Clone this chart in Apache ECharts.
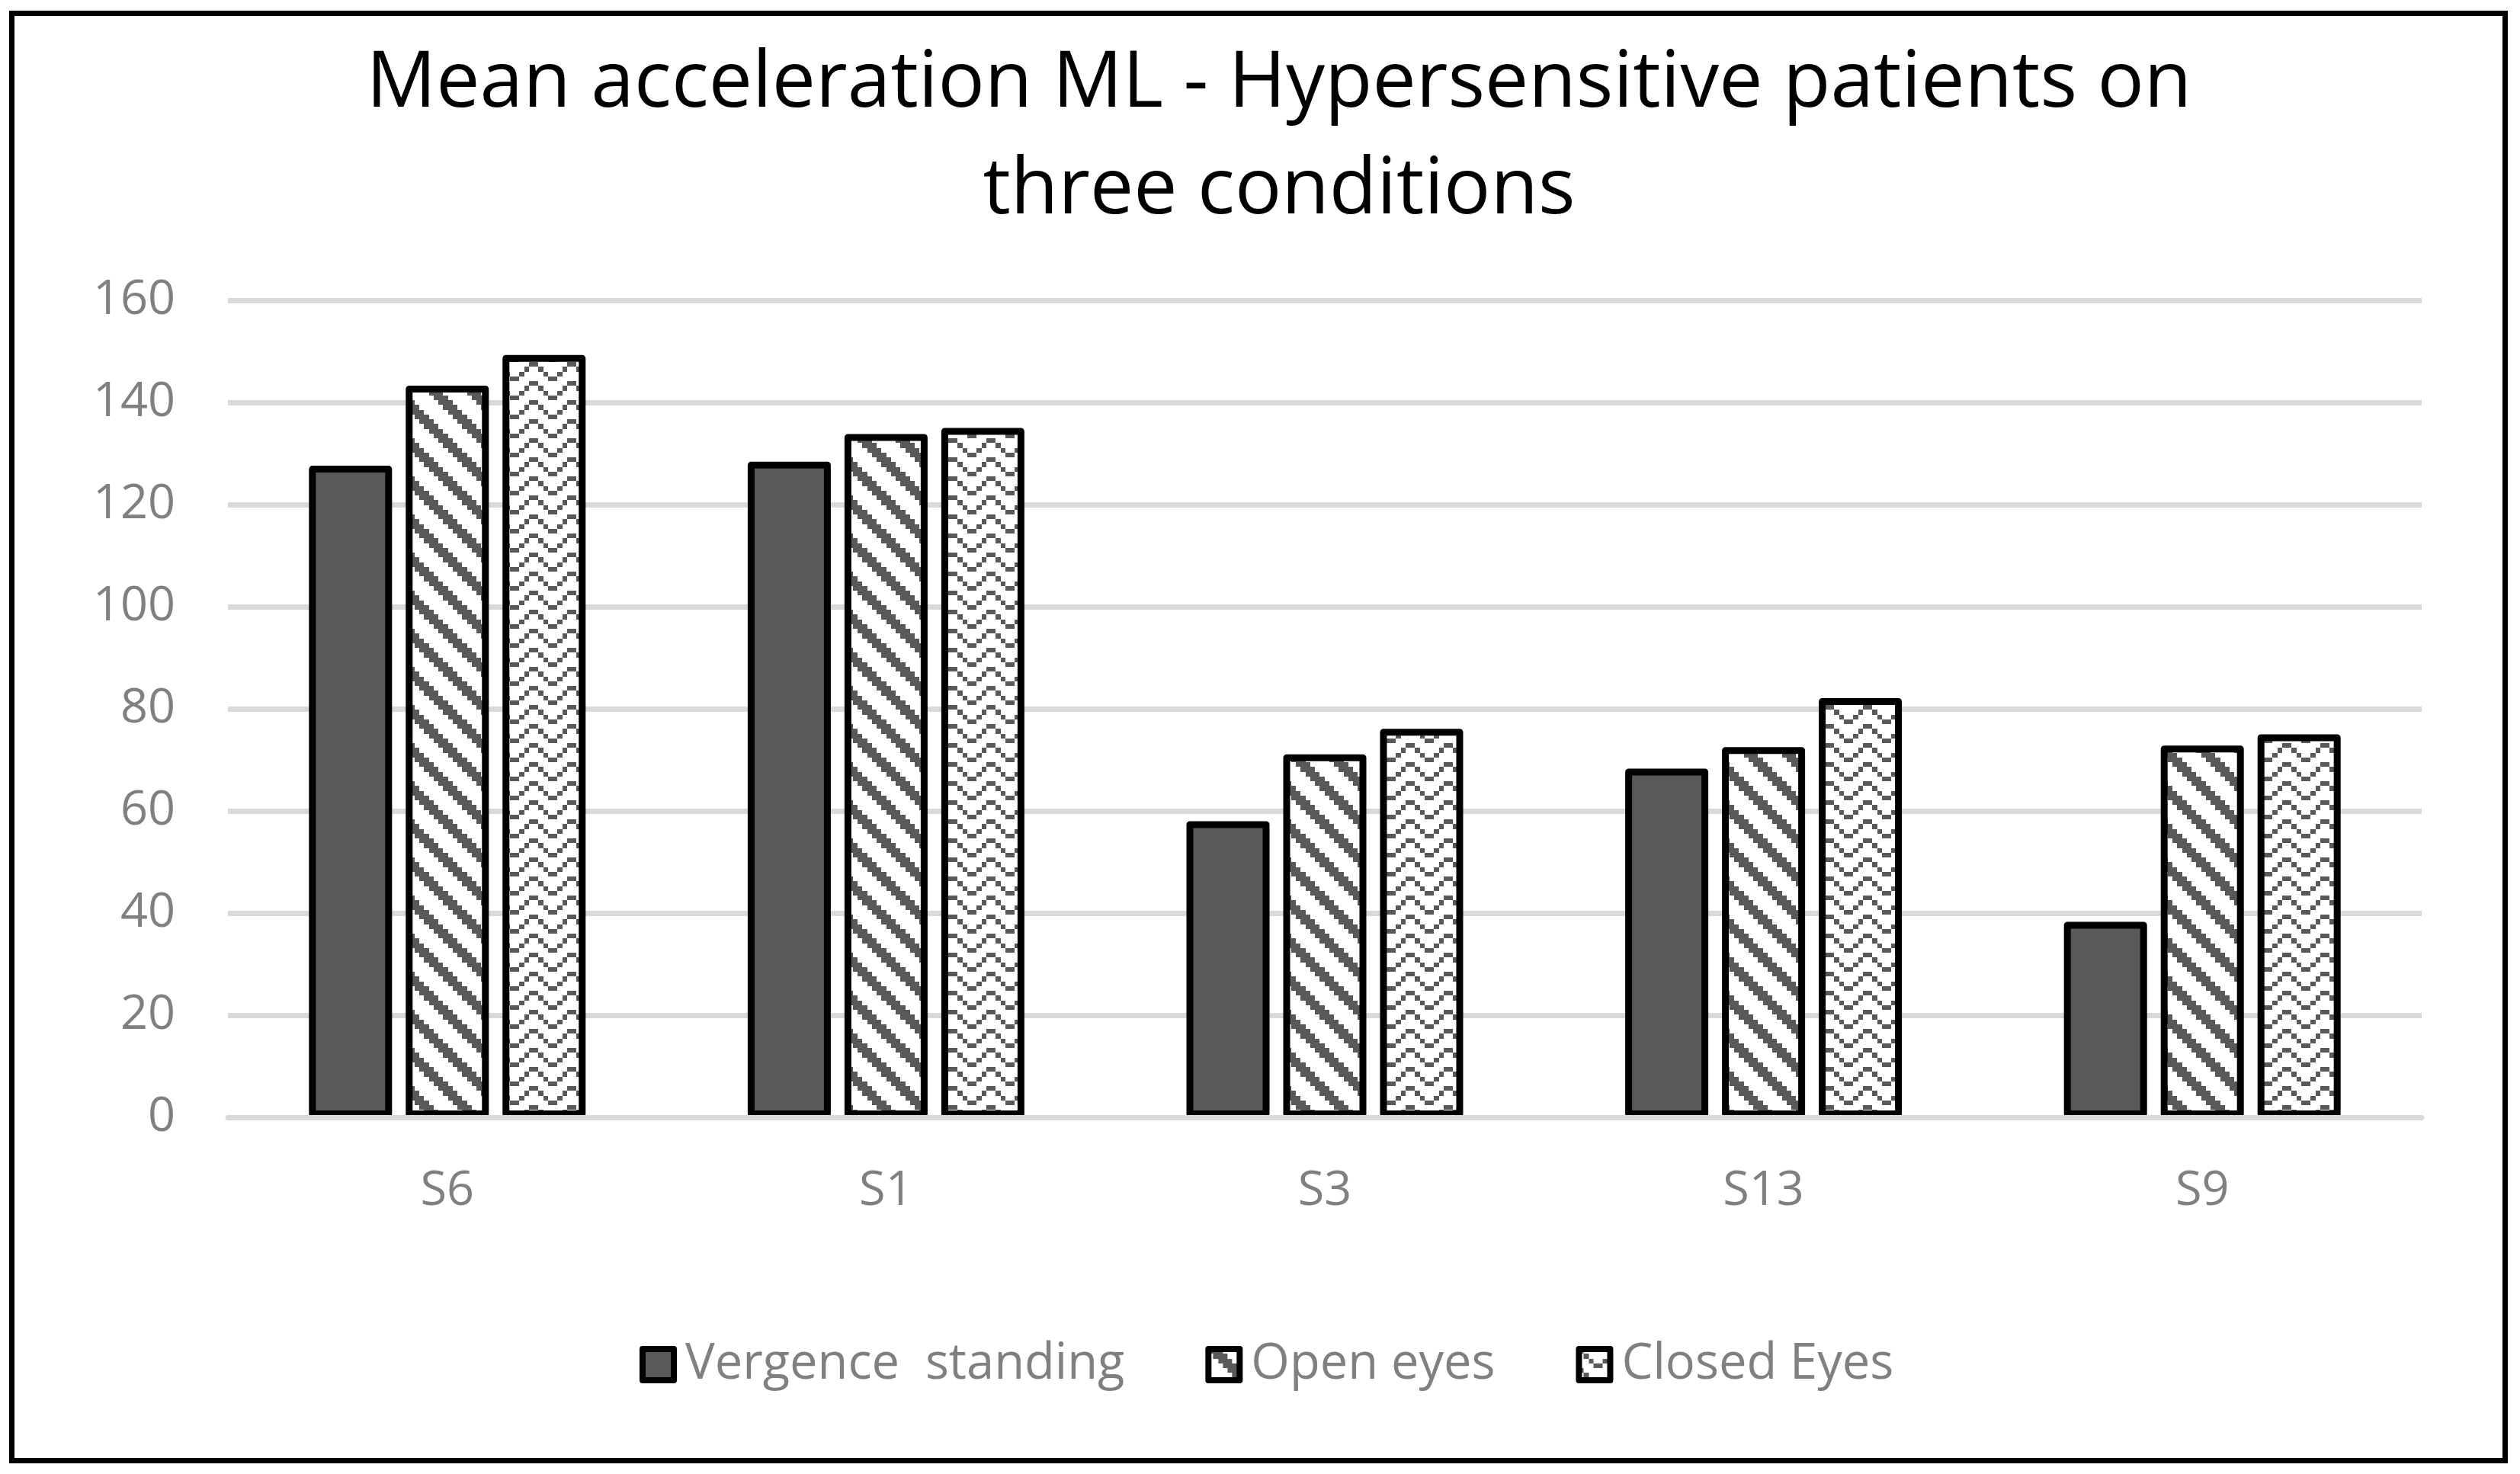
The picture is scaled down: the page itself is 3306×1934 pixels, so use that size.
<!DOCTYPE html>
<html>
<head>
<meta charset="utf-8">
<script src="https://cdn.jsdelivr.net/npm/echarts/dist/echarts.min.js"></script>
<style>
html,body{margin:0;padding:0;background:#fff;}
#chart{width:3306px;height:1934px;}
</style>
</head>
<body>
<div id="chart"></div>
<script>
// ---- data ----
const categories = ['S6', 'S1', 'S3', 'S13', 'S9'];
const seriesNames = ['Vergence  standing', 'Open eyes', 'Closed Eyes'];
const vergenceStanding = [127.6, 128.4, 58.0, 68.3, 38.3];
const openEyes = [143.3, 133.8, 71.1, 72.5, 72.8];
const closedEyes = [149.3, 135.0, 76.1, 82.1, 75.0];
const yMin = 0, yMax = 160, yStep = 20;
const titleText = 'Mean acceleration ML - Hypersensitive patients on\nthree conditions';

// ---- styles ----
function makePattern(rows) {
  const size = 50, n = 8, cell = size / n;
  const c = document.createElement('canvas');
  c.width = size; c.height = size;
  const ctx = c.getContext('2d');
  ctx.fillStyle = '#ffffff';
  ctx.fillRect(0, 0, size, size);
  ctx.fillStyle = '#595959';
  for (let r = 0; r < n; r++) {
    for (let k = 0; k < n; k++) {
      if (rows[r][k] === 'X') {
        const x0 = Math.round(k * cell), x1 = Math.round((k + 1) * cell);
        const y0 = Math.round(r * cell), y1 = Math.round((r + 1) * cell);
        ctx.fillRect(x0, y0, x1 - x0, y1 - y0);
      }
    }
  }
  return c;
}
const diagPattern = makePattern([
  'XXX.....',
  '.XXX....',
  '..XXX...',
  '...XXX..',
  '....XXX.',
  '.....XXX',
  'X.....XX',
  'XX.....X'
]);
const zigzagPattern = makePattern([
  'X......X',
  '.X....X.',
  '..X..X..',
  '...XX...',
  'X......X',
  '.X....X.',
  '..X..X..',
  '...XX...'
]);

const FONT = 'Open Sans';
const GRAY = '#808080';
const chart = echarts.init(document.getElementById('chart'), null, {renderer: 'canvas'});

function barSeries(name, data, fill) {
  return {
    name: name,
    type: 'bar',
    data: data,
    barWidth: 109,
    barGap: '16.5%',
    itemStyle: {
      color: fill,
      borderColor: '#000000',
      borderWidth: 9,
      borderJoin: 'round'
    },
    emphasis: {disabled: true}
  };
}

chart.setOption({
  animation: false,
  backgroundColor: '#ffffff',
  title: {
    text: titleText,
    left: 1673,
    top: 36,
    textAlign: 'center',
    padding: 5,
    textStyle: {
      fontFamily: FONT,
      fontSize: 102,
      fontWeight: 'normal',
      color: '#000000',
      lineHeight: 140
    }
  },
  legend: {
    left: 839,
    top: 1758,
    padding: 0,
    itemWidth: 41,
    itemHeight: 41,
    itemGap: 106,
    icon: 'rect',
    selectedMode: false,
    itemStyle: {borderWidth: 8, borderColor: '#000000'},
    textStyle: {
      fontFamily: FONT,
      fontSize: 65,
      color: GRAY,
      padding: [0, 0, 0, 10]
    },
    data: seriesNames
  },
  grid: {
    left: 299,
    right: 129,
    top: 394,
    bottom: 468,
    containLabel: false
  },
  xAxis: {
    type: 'category',
    data: categories,
    z: 5,
    axisLine: {show: true, lineStyle: {color: '#d9d9d9', width: 7}},
    axisTick: {show: false},
    axisLabel: {
      margin: 66,
      fontFamily: FONT,
      fontSize: 63,
      color: GRAY
    },
    splitLine: {show: false}
  },
  yAxis: {
    type: 'value',
    min: yMin,
    max: yMax,
    interval: yStep,
    axisLine: {show: false},
    axisTick: {show: false},
    axisLabel: {
      margin: 69,
      fontFamily: FONT,
      fontSize: 63,
      color: GRAY
    },
    splitLine: {show: true, lineStyle: {color: '#d9d9d9', width: 7}}
  },
  graphic: [{
    type: 'rect',
    silent: true,
    z: 100,
    shape: {x: 15.5, y: 17.5, width: 3271, height: 1899},
    style: {fill: 'none', stroke: '#000000', lineWidth: 7}
  }],
  series: [
    barSeries(seriesNames[0], vergenceStanding, '#595959'),
    barSeries(seriesNames[1], openEyes, {image: diagPattern, repeat: 'repeat'}),
    barSeries(seriesNames[2], closedEyes, {image: zigzagPattern, repeat: 'repeat'})
  ]
});
</script>
</body>
</html>
